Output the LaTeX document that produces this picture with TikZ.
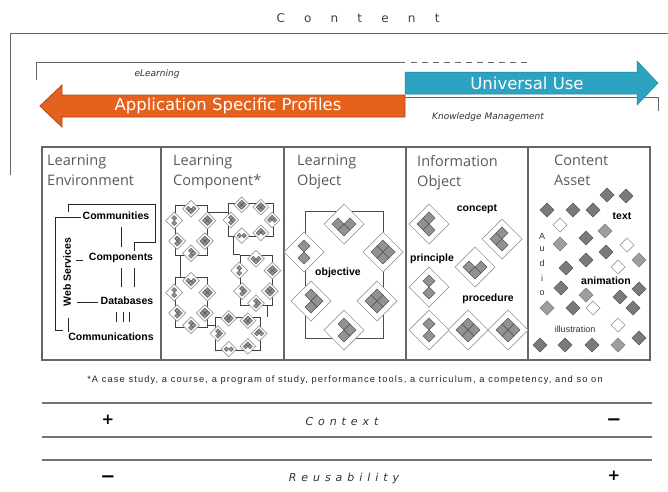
\documentclass[tikz,border=0pt]{standalone}
\usepackage{fontspec}
\setmainfont{Liberation Sans}
\newfontfamily\hdrfont{Open Sans}
\newfontfamily\arrfont{DejaVu Sans}
\newfontfamily\lblfont{Liberation Sans}
\newfontfamily\trackA{DejaVu Sans}[LetterSpace=160]
\newfontfamily\trackB{DejaVu Sans}[LetterSpace=45]
\newfontfamily\fnfont{Liberation Sans}[LetterSpace=12]
\definecolor{orng}{HTML}{E5621E}
\definecolor{orngd}{HTML}{B5460F}
\definecolor{blu}{HTML}{2BA3C1}
\definecolor{blud}{HTML}{1F8099}
\definecolor{hdrc}{HTML}{5A5A5A}
\newcommand\sdm[2]{\filldraw[sdia] (#1,#2) ++(0,-6) -- ++(6,6) -- ++(-6,6) -- ++(-6,-6) -- cycle;}
\newcommand\bdm[3]{\begin{scope}[shift={(#1,#2)}]\filldraw[bdia] (0,-20) -- (20,0) -- (0,20) -- (-20,0) -- cycle; #3\end{scope}}
\newcommand\lodias{%
\bdm{0}{-50.5}{\sdm{-6}{0}\sdm{6}{0}\sdm{0}{6}}%
\bdm{-40}{-22.5}{\sdm{0}{-6}\sdm{0}{6}}%
\bdm{39}{-22.5}{\sdm{0}{-6}\sdm{6}{0}\sdm{0}{6}\sdm{-6}{0}}%
\bdm{-33}{26.5}{\sdm{0}{-6}\sdm{6}{0}\sdm{0}{6}}%
\bdm{33}{26.5}{\sdm{0}{-6}\sdm{6}{0}\sdm{0}{6}\sdm{-6}{0}}%
\bdm{0}{55.5}{\sdm{0}{-6}\sdm{6}{0}\sdm{0}{6}}%
}
\newcommand\cfd[2]{\filldraw[cfdia] (#1,#2) ++(0,-7) -- ++(7,7) -- ++(-7,7) -- ++(-7,-7) -- cycle;}
\newcommand\cld[2]{\filldraw[cldia] (#1,#2) ++(0,-7) -- ++(7,7) -- ++(-7,7) -- ++(-7,-7) -- cycle;}
\newcommand\chd[2]{\filldraw[chdia] (#1,#2) ++(0,-7) -- ++(7,7) -- ++(-7,7) -- ++(-7,-7) -- cycle;}
\tikzset{
  brk/.style={draw=black!60, line width=1pt},
  tbl/.style={draw=black!60, line width=1.2pt},
  le/.style={draw=black!85, line width=0.9pt},
  bdia/.style={draw=black!40, line width=0.7pt, fill=white},
  sdia/.style={fill=black!50, draw=black!65, line width=0.4pt, fill opacity=0.85},
  cfdia/.style={fill=black!52, draw=black!65, line width=0.5pt},
  cldia/.style={fill=black!38, draw=black!50, line width=0.5pt},
  chdia/.style={fill=white, draw=black!40, line width=0.7pt},
  lcrect/.style={draw=black!75, line width=0.9pt, inner sep=0pt, minimum width=32pt, minimum height=50pt},
  lcline/.style={draw=black!75, line width=0.9pt},
  hdr/.style={font=\hdrfont\fontsize{14.5}{20}\selectfont, text=hdrc, anchor=north west, align=left, inner sep=0pt},
  lbl/.style={font=\lblfont\fontsize{10.5}{12}\selectfont\bfseries, text=black, inner sep=1pt},
  itl/.style={font=\arrfont\itshape\fontsize{9}{11}\selectfont, text=black!80},
  arrtxt/.style={font=\arrfont\fontsize{16.5}{18}\selectfont, text=white},
  trk/.style={font=\trackB\itshape\fontsize{11}{13}\selectfont, text=black!80},
  sgn/.style={font=\arrfont\bfseries\fontsize{15}{16}\selectfont, text=black},
  mns/.style={font=\arrfont\bfseries\fontsize{18}{20}\selectfont, text=black},
  hline/.style={draw=black!55, line width=1.8pt},
  small/.style={font=\lblfont\fontsize{9}{11}\selectfont, text=black!80, inner sep=0pt}
}
\begin{document}
\begin{tikzpicture}[x=1pt,y=-1pt]
\useasboundingbox (0,0) rectangle (668,491);
\fill[white] (0,0) rectangle (668,491);
% title
\node[font=\trackA\fontsize{12}{14}\selectfont, text=black!75] (title) at (358,18) {Content};
% brackets
\draw[brk] (10,175) -- (10,33) -- (668,33);
\draw[brk] (36,80) -- (36,62) -- (405,62);
\draw[brk, dash pattern=on 6pt off 5pt] (411,62) -- (528,62);
\draw[brk] (405,97) -- (658,97) -- (658,111);
\node[itl] (el) at (157,74) {eLearning};
\node[itl] (km) at (488,117) {Knowledge Management};
% arrows
\filldraw[fill=blu, draw=blud, line width=0.5pt] (405,72) -- (637,72) -- (637,61) -- (658,83) -- (637,105) -- (637,94) -- (405,94) -- cycle;
\node[arrtxt] (uu) at (527,83) {Universal Use};
\filldraw[fill=orng, draw=orngd, line width=0.8pt] (405,95) -- (62,95) -- (62,85) -- (40,106) -- (62,127) -- (62,117) -- (405,117) -- cycle;
\node[arrtxt] (asp) at (228,106) {Application Specific Profiles};
% table
\draw[tbl] (42,147) rectangle (650,360);
\foreach \xx in {161,284,406,528} \draw[tbl] (\xx,147) -- (\xx,360);
\node[hdr] (h1) at (47,155) {Learning\\Environment};
\node[hdr] (h2) at (173,155) {Learning\\Component*};
\node[hdr] (h3) at (297,155) {Learning\\Object};
\node[hdr] (h4) at (417,155) {Information\\Object};
\node[hdr] (h5) at (554,155) {Content\\Asset};
% column 1
\node[lbl] (com) at (116,216) {Communities};
\node[lbl] (cmp) at (121,258) {Components};
\node[lbl] (db) at (127,301) {Databases};
\node[lbl] (cms) at (111,337) {Communications};
\node[lbl, rotate=90] (ws) at (67,272) {Web Services};
\draw[le] (81,217) -- (55,217) -- (55,330) -- (63,330);
\draw[le] (68,318) -- (68,332);
\draw[le] (68,212) -- (68,204) -- (155,204) -- (155,242) -- (134,242) -- (134,251);
\draw[le] (121,227) -- (121,247);
\draw[le] (121,268) -- (121,287);
\draw[le] (134,268) -- (134,287);
\draw[le] (76,260) -- (83,260);
\draw[le] (77,302) -- (98,302);
\foreach \xx in {116,123,129} \draw[le] (\xx,312) -- (\xx,322);
% column 2
\node[lcrect] (ca) at (191,230) {};
\node[lcrect, minimum width=45pt, minimum height=33pt] (cb) at (250.5,220) {};
\node[lcrect] (cc) at (256,280) {};
\node[lcrect] (cd) at (191,302) {};
\node[lcrect, minimum width=45pt, minimum height=33pt] (ce) at (237.5,333.5) {};
\draw[lcline] (ca.east |- 0,212) -- (cb.west |- 0,212);
\draw[lcline] (ca.south -| 180,0) -- (cd.north -| 180,0);
\draw[lcline] (cb.south -| 233,0) |- (cc.north west);
\draw[lcline] (cd.east |- 0,325) -- (ce.west |- 0,325);
\draw[lcline] (cc.south -| 267,0) -- (ce.north -| 267,0);
\foreach \n in {ca,cc,cd} {\begin{scope}[shift={(\n.center)}, scale=0.42]\lodias\end{scope}}
\foreach \n in {cb,ce} {\begin{scope}[shift={(\n.center)}, scale=0.39, rotate=90]\lodias\end{scope}}
% column 3
\node[draw=black!70, line width=0.9pt, inner sep=0pt, minimum width=78pt, minimum height=127pt] (lo) at (344,274.5) {};
\begin{scope}[shift={(lo.center)}]\lodias\end{scope}
\node[lbl] (obj) at (338,273) {objective};
% column 4
\bdm{429}{224}{\sdm{0}{-6}\sdm{-6}{0}\sdm{0}{6}}
\bdm{502}{239}{\sdm{0}{-6}\sdm{-6}{0}\sdm{0}{6}}
\bdm{475}{267}{\sdm{-6}{0}\sdm{6}{0}\sdm{0}{6}}
\bdm{429}{287}{\sdm{0}{-6}\sdm{0}{6}}
\bdm{429}{330}{\sdm{0}{-6}\sdm{0}{6}}
\bdm{468}{330}{\sdm{0}{-6}\sdm{6}{0}\sdm{0}{6}\sdm{-6}{0}}
\bdm{508}{330}{\sdm{0}{-6}\sdm{6}{0}\sdm{0}{6}\sdm{-6}{0}}
\node[lbl] (cpt) at (477,209) {concept};
\node[lbl] (prn) at (432,259) {principle};
\node[lbl] (prc) at (488,299) {procedure};
% column 5
\cfd{607}{195}\cfd{626}{196}\cfd{547}{210}\cfd{573}{210}\cfd{593}{210}
\chd{560}{225}\cld{605}{231}\cfd{586}{238}\cld{560}{244}\chd{627}{245}
\cfd{606}{252}\cfd{586}{260}\cld{639}{260}\cfd{566}{268}\chd{618}{267}
\cfd{639}{289}\cfd{561}{288}\cld{586}{295}\cfd{620}{297}
\cld{547}{308}\cfd{573}{308}\chd{593}{308}\cfd{633}{308}
\chd{618}{325}\cfd{540}{345}\cfd{565}{345}\cfd{592}{345}\cld{618}{345}\cfd{639}{338}
\node[lbl] (txt) at (622,216) {text};
\node[lbl] (ani) at (606,281) {animation};
\node[small] (ill) at (575,329) {illustration};
\node[small] (a1) at (542,236) {A};
\node[small] (a2) at (542,249) {u};
\node[small] (a3) at (542,263) {d};
\node[small] (a4) at (542,278) {i};
\node[small] (a5) at (542,293) {o};
% footnote
\node[font=\fnfont\fontsize{9.3}{11}\selectfont, text=black!85] (fn) at (345,380) {*A case study, a course, a program of study, performance tools, a curriculum, a competency, and so on};
% bottom
\draw[hline] (42,403) -- (652,403);
\draw[hline] (42,437) -- (652,437);
\draw[hline] (42,460) -- (652,460);
\node[sgn] (p1) at (108,420) {+};
\node[trk] (ctx) at (342,421) {Context};
\node[mns] (m1) at (614,422) {−};
\node[mns] (m2) at (108,479) {−};
\node[trk] (reu) at (344,478) {Reusability};
\node[sgn] (p2) at (614,476) {+};
\end{tikzpicture}
\end{document}
